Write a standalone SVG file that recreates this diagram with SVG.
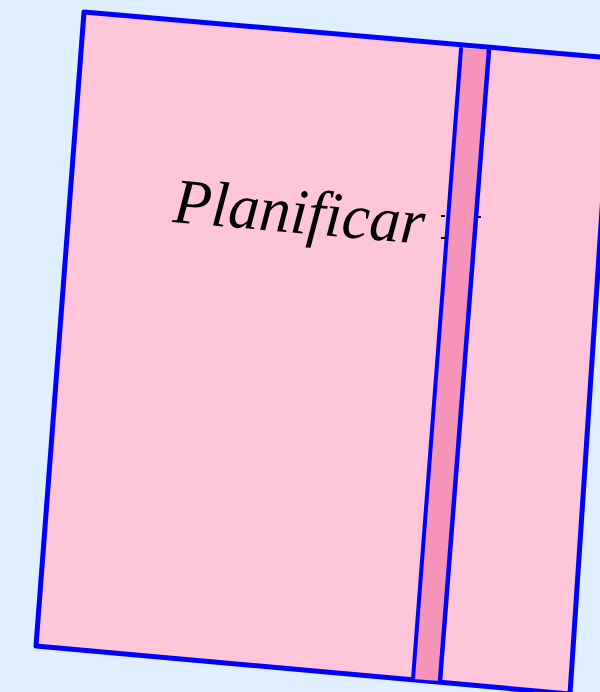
<svg xmlns="http://www.w3.org/2000/svg" width="600" height="692" viewBox="0 0 600 692">
<style>
.bg{fill:#e0efff}
.card{fill:#ffc6d9;stroke:#0000ff;stroke-width:5;stroke-linejoin:round}
.strip{fill:#f594b8}
.edge{stroke:#0000ff;fill:none;stroke-linecap:round}
.lbl{font-family:"Liberation Serif","DejaVu Serif",serif;font-style:italic;font-size:64px;fill:#000}
</style>
<rect class="bg" x="0" y="0" width="600" height="692"/>
<g id="card">
<polygon class="card" points="84,12 612,58 570,694 36,646"/>
</g>
<g id="strip">
<polygon class="strip" points="461,48 489,50 440,681 413,679"/>
<path class="edge" stroke-width="4" d="M461,49 L413,679"/>
<path class="edge" stroke-width="4.5" d="M489,50 L440,681"/>
</g>
<g id="label">
<text class="lbl" x="172" y="222" transform="rotate(5 172 222)" textLength="252" lengthAdjust="spacingAndGlyphs">Planificar</text>
<path d="M441,216 l4,0 M441,238 l4,0 M477,217 l4,0" stroke="#000" stroke-width="2"/>
</g>
</svg>
